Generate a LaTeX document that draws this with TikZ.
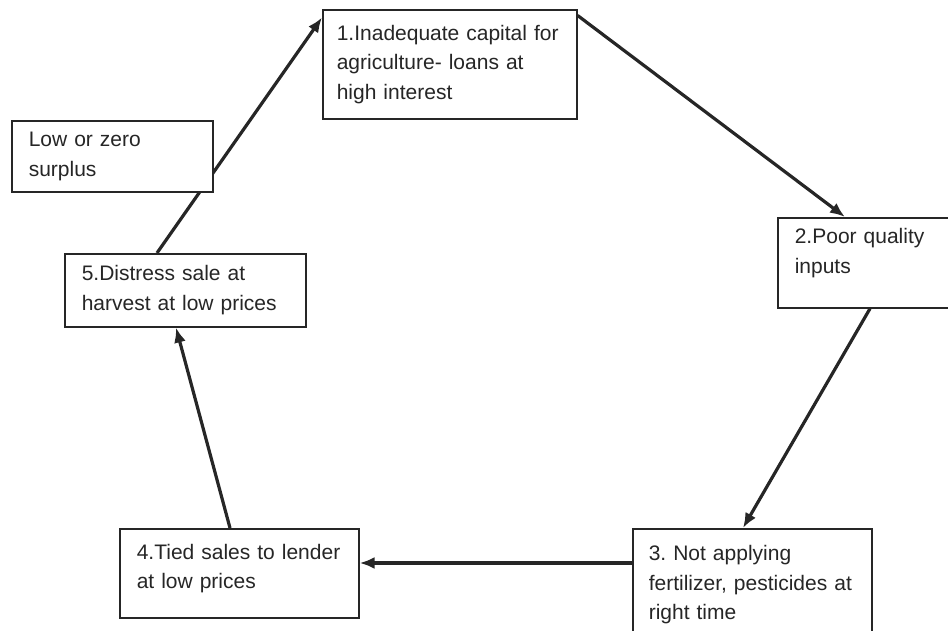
\documentclass[tikz,border=0pt]{standalone}
\usepackage{fontspec}
\setmainfont{Liberation Sans}
\usepackage{tikz}
\usetikzlibrary{arrows.meta,calc}
\definecolor{cink}{HTML}{262626}
\frenchspacing
\tikzset{
  box/.style={draw=cink, line width=1.6pt, fill=white, anchor=north west, align=left,
    inner xsep=17pt, inner ysep=0pt, text=cink, font=\fontsize{21}{29.5}\selectfont},
  pre/.style={-{Latex[length=15pt, width=12pt]}, line width=3.2pt, draw=cink},
}
\begin{document}
\begin{tikzpicture}[x=1pt,y=1pt]
\useasboundingbox (0,0) rectangle (948,631);
\clip (0,0) rectangle (948,631);
\node[box, inner xsep=14pt, text width=226pt, minimum height=108.5pt] (b1) at (322,621.5) {1.Inadequate capital for\\ agriculture- loans at\\ high interest};
\node[box, text width=206pt, minimum height=90pt, text depth=53pt] (b2) at (777,414) {2.Poor quality\\ inputs};
\node[box, inner xsep=16pt, text width=207pt, minimum height=112pt] (b3) at (632,103) {3. Not applying\\ fertilizer, pesticides at\\ right time};
\node[box, text width=205pt, minimum height=89pt, text depth=43pt] (b4) at (119,103) {4.Tied sales to lender\\ at low prices};
\node[box, text width=207pt, minimum height=73pt] (b5) at (64,378) {5.Distress sale at\\ harvest at low prices};
% the cycle
\draw[pre] ([yshift=-6pt]b1.north east) -- ([xshift=68pt]b2.north west);
\draw[pre] ([xshift=93pt]b2.south west) -- ([xshift=111pt]b3.north west);
\draw[pre] ([yshift=-35pt]b3.north west) -- ([yshift=-35pt]b4.north east);
\draw[pre] ([xshift=111pt]b4.north west) -- ([xshift=112pt]b5.south west);
\draw[pre] ([xshift=93pt]b5.north west) -- ([yshift=-8pt]b1.north west);
% side note, drawn over the last arrow
\node[box, text width=167pt, minimum height=71pt] (surplus) at (11,511) {Low or zero\\ surplus};
\end{tikzpicture}
\end{document}
